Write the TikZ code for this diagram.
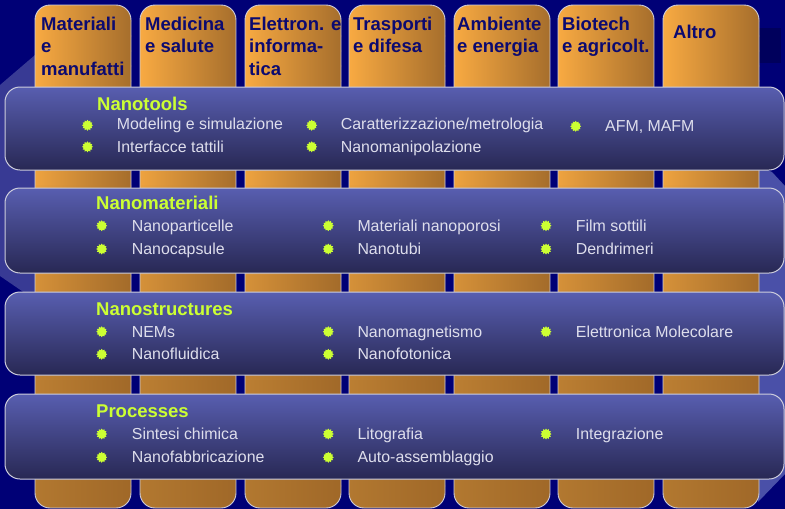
\documentclass[tikz,border=0pt]{standalone}
\usepackage{fontspec}
\setmainfont{Liberation Sans}
\usetikzlibrary{shapes.geometric}
\definecolor{bg_navy}{RGB}{0,0,118}
\definecolor{bg_deep}{RGB}{0,0,92}
\definecolor{bg_light}{RGB}{56,58,148}
\definecolor{bg_pale}{RGB}{74,80,168}
\definecolor{col_light}{RGB}{248,170,66}
\definecolor{col_dark}{RGB}{166,110,44}
\definecolor{col_base}{RGB}{178,120,48}
\definecolor{col_deep}{RGB}{160,104,40}
\definecolor{col_text}{RGB}{12,10,112}
\definecolor{band_top}{RGB}{88,94,176}
\definecolor{band_bot}{RGB}{40,40,84}
\definecolor{band_line}{RGB}{205,205,220}
\definecolor{title_green}{RGB}{204,255,51}
\definecolor{item_grey}{RGB}{222,222,236}
\tikzstyle{colline}=[rounded corners=15pt,draw=band_line,line width=0.9pt]
\tikzstyle{band}=[rounded corners=15pt,top color=band_top,bottom color=band_bot,
  draw=band_line,line width=1pt]
\tikzstyle{lbl}=[anchor=base west,inner sep=0pt,align=left,text=col_text,
  font=\fontsize{18.5}{22.5}\selectfont\bfseries]
\tikzstyle{ttl}=[anchor=base west,inner sep=0pt,text=title_green,
  font=\fontsize{18.5}{22}\selectfont\bfseries]
\tikzstyle{itm}=[anchor=base west,inner sep=0pt,text=item_grey,
  font=\fontsize{15.9}{18}\selectfont]
\tikzstyle{dot}=[star,star points=12,star point ratio=1.35,fill=title_green,
  inner sep=0pt,minimum size=11pt]

\begin{document}
\begin{tikzpicture}[x=1pt,y=-1pt]
        \useasboundingbox (0,0) rectangle (785,509);
        \fill[bg_navy] (0,0) rectangle (785,509);
        \fill[bg_light] (0,85) -- (35,55) -- (35,300) -- (0,276) -- cycle;
        \fill[bg_pale] (758,166) -- (772,172) -- (785,186) -- (785,474) -- (758,502) -- cycle;
        \fill[bg_deep] (759,28) rectangle (781,63);

        % application columns, orange at the top turning brown lower down
        \foreach \x in {35,140,245,349,454,558,663} {
            \begin{scope}
                \clip[rounded corners=15pt] (\x,5) rectangle (\x+96,508);
                \foreach \y in {5,20,...,500} {
                    \pgfmathtruncatemacro{\p}{max(0,min(100,(420-\y)/2.9))}
                    \shade[left color=col_light!\p!col_base,right color=col_dark!\p!col_deep]
                        (\x,\y) rectangle (\x+96,\y+16);
                }
            \end{scope}
            \draw[colline] (\x,5) rectangle (\x+96,508);
        }
        \node[lbl] (c1) at (41,75) {Materiali\\e\\manufatti};
        \node[lbl] (c2) at (145,52.5) {Medicina\\e salute};
        \node[lbl] (c3) at (249,75) {Elettron. e\\informa-\\tica};
        \node[lbl] (c4) at (353,52.5) {Trasporti\\e difesa};
        \node[lbl] (c5) at (457,52.5) {Ambiente\\e energia};
        \node[lbl] (c6) at (562,52.5) {Biotech\\e agricolt.};
        \node[lbl] (c7) at (673,38) {Altro};

        % horizontal bands
        \draw[band] (5,87) rectangle (784,170);
        \draw[band] (5,188) rectangle (784,273);
        \draw[band] (5,292) rectangle (784,375);
        \draw[band] (5,394) rectangle (784,479);

        \node[ttl] (t1) at (97,110) {Nanotools};
        \node[dot] (d11) at (87.5,125.3) {};
        \node[itm] (i11) at (116.7,129.5) {Modeling e simulazione};
        \node[dot] (d12) at (87.5,146.8) {};
        \node[itm] (i12) at (116.7,152.5) {Interfacce tattili};
        \node[dot] (d13) at (311.7,125.3) {};
        \node[itm] (i13) at (340.7,129.5) {Caratterizzazione/metrologia};
        \node[dot] (d14) at (311.7,146.8) {};
        \node[itm] (i14) at (340.7,152.5) {Nanomanipolazione};
        \node[dot] (d15) at (575.7,126.3) {};
        \node[itm] (i15) at (605,131.5) {AFM, MAFM};

        \node[ttl] (t2) at (96,209.3) {Nanomateriali};
        \node[dot] (d21) at (101.7,225.7) {};
        \node[itm] (i21) at (131.7,231.5) {Nanoparticelle};
        \node[dot] (d22) at (101.7,249) {};
        \node[itm] (i22) at (131.7,254.5) {Nanocapsule};
        \node[dot] (d23) at (328.3,225.7) {};
        \node[itm] (i23) at (357.3,231.5) {Materiali nanoporosi};
        \node[dot] (d24) at (328.3,249) {};
        \node[itm] (i24) at (357.3,254.5) {Nanotubi};
        \node[dot] (d25) at (546,225.7) {};
        \node[itm] (i25) at (575.7,231.5) {Film sottili};
        \node[dot] (d26) at (546,249) {};
        \node[itm] (i26) at (575.7,254.5) {Dendrimeri};

        \node[ttl] (t3) at (96,315) {Nanostructures};
        \node[dot] (d31) at (101.7,331.7) {};
        \node[itm] (i31) at (131.7,337) {NEMs};
        \node[dot] (d32) at (101.7,354.3) {};
        \node[itm] (i32) at (131.7,359.5) {Nanofluidica};
        \node[dot] (d33) at (328.3,331.7) {};
        \node[itm] (i33) at (357.3,337) {Nanomagnetismo};
        \node[dot] (d34) at (328.3,354.3) {};
        \node[itm] (i34) at (357.3,359.5) {Nanofotonica};
        \node[dot] (d35) at (546,331.7) {};
        \node[itm] (i35) at (575.7,337) {Elettronica Molecolare};

        \node[ttl] (t4) at (96,417) {Processes};
        \node[dot] (d41) at (101.7,434) {};
        \node[itm] (i41) at (131.7,439.5) {Sintesi chimica};
        \node[dot] (d42) at (101.7,457.3) {};
        \node[itm] (i42) at (131.7,462.5) {Nanofabbricazione};
        \node[dot] (d43) at (328.3,434) {};
        \node[itm] (i43) at (357.3,439.5) {Litografia};
        \node[dot] (d44) at (328.3,457.3) {};
        \node[itm] (i44) at (357.3,462.5) {Auto-assemblaggio};
        \node[dot] (d45) at (546,434) {};
        \node[itm] (i45) at (575.7,439.5) {Integrazione};
    \end{tikzpicture}
\end{document}
